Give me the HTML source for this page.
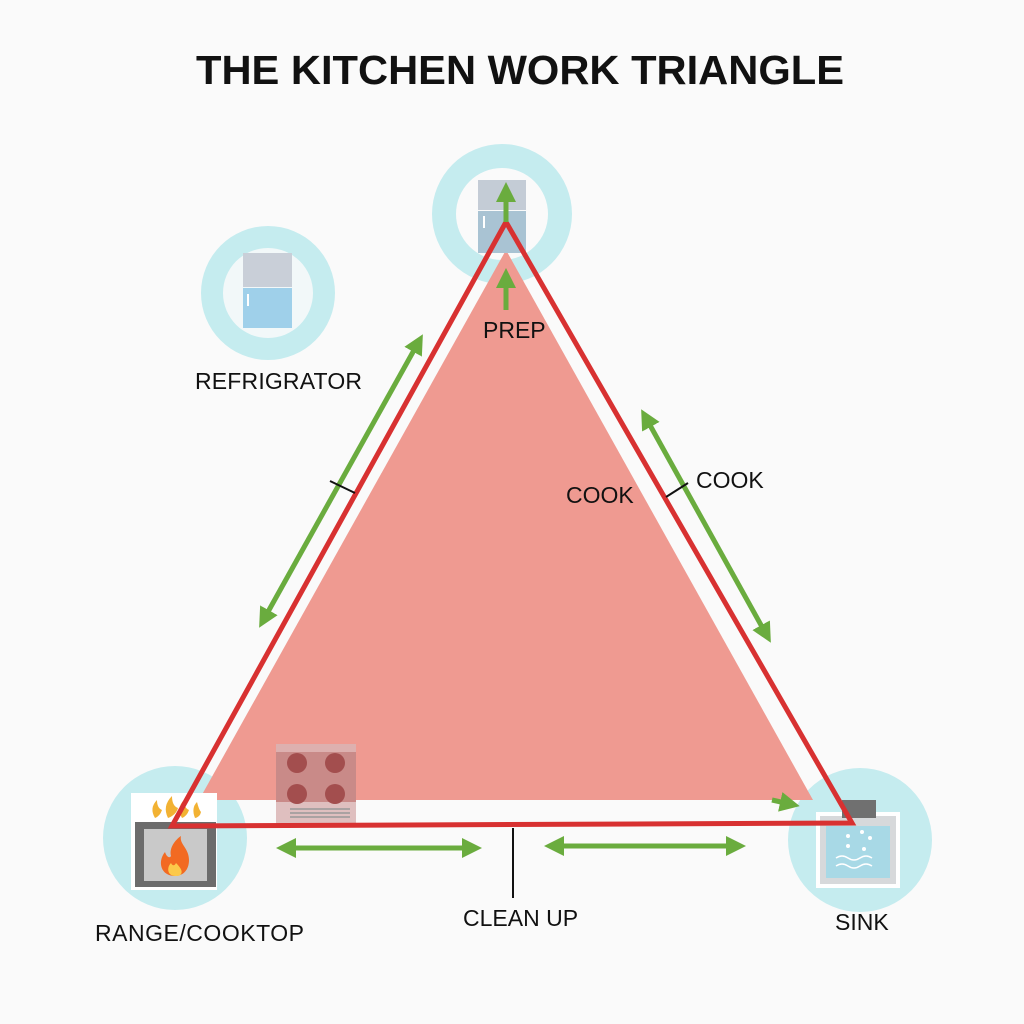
<!DOCTYPE html>
<html><head><meta charset="utf-8"><style>
html,body{margin:0;padding:0;background:#fafafa;}
svg{display:block;}
text{font-family:"Liberation Sans",sans-serif;fill:#111;}
</style></head><body>
<svg width="1024" height="1024" viewBox="0 0 1024 1024" xmlns="http://www.w3.org/2000/svg">
<defs>
<marker id="ah" viewBox="0 0 10 10" refX="5" refY="5" markerWidth="4" markerHeight="4" orient="auto-start-reverse">
<path d="M0,0 L10,5 L0,10 z" fill="#6aac3e"/></marker>
</defs>
<rect width="1024" height="1024" fill="#fafafa"/>
<text x="196" y="84" font-size="41" font-weight="bold" textLength="648" lengthAdjust="spacingAndGlyphs">THE KITCHEN WORK TRIANGLE</text>

<circle cx="502" cy="214" r="70" fill="#c5ecef"/>
<circle cx="502" cy="214" r="46" fill="#fafafa"/>
<circle cx="268" cy="293" r="67" fill="#c5ecef"/>
<circle cx="268" cy="293" r="45" fill="#f2f8f9"/>
<circle cx="175" cy="838" r="72" fill="#c5ecef"/>
<circle cx="860" cy="840" r="72" fill="#c5ecef"/>

<polygon points="506,250 199,800 813,800" fill="#ef9a91"/>

<rect x="478" y="180" width="48" height="30" fill="#c4ccd6"/>
<rect x="478" y="211" width="48" height="42" fill="#a9c3d3"/>
<rect x="483" y="216" width="2" height="12" fill="#fff"/>
<rect x="243" y="253" width="49" height="34" fill="#c9cfd8"/>
<rect x="243" y="288" width="49" height="40" fill="#9fd0ea"/>
<rect x="247" y="294" width="2" height="12" fill="#fff"/>

<rect x="276" y="744" width="80" height="80" fill="#d9b4b4" opacity="0.85"/>
<rect x="276" y="752" width="80" height="50" fill="#c98a88"/>
<circle cx="297" cy="763" r="10" fill="#a34e4e"/><circle cx="335" cy="763" r="10" fill="#a34e4e"/>
<circle cx="297" cy="794" r="10" fill="#a34e4e"/><circle cx="335" cy="794" r="10" fill="#a34e4e"/>
<g stroke="#999" stroke-width="1.5"><line x1="290" y1="809" x2="350" y2="809"/><line x1="290" y1="813" x2="350" y2="813"/><line x1="290" y1="817" x2="350" y2="817"/></g>

<rect x="131" y="793" width="86" height="97" fill="#fff"/>
<path d="M155,818 q-6,-10 2,-18 q0,8 5,10 q-2,6 -7,8z M168,818 q-6,-12 4,-22 q0,10 6,12 q-2,7 -10,10z M182,818 q-6,-10 2,-18 q0,8 5,10 q-2,6 -7,8z M195,818 q-4,-10 2,-16 q2,8 4,10 q-1,5 -6,6z" fill="#f2b233"/>
<rect x="135" y="822" width="81" height="65" fill="#6c6c6c"/>
<rect x="144" y="829" width="63" height="52" fill="#c9c9c9"/>
<path d="M175,876 c-14,0 -18,-14 -10,-24 c2,6 5,6 6,4 c-2,-8 4,-16 10,-20 c-2,8 8,12 8,24 c0,10 -6,16 -14,16z" fill="#f26a22"/>
<path d="M175,876 c-7,0 -9,-8 -4,-13 c2,4 4,2 5,0 c4,4 7,8 5,11 c-1,2 -3,2 -6,2z" fill="#fcc94a"/>

<rect x="816" y="812" width="84" height="76" fill="#fff"/>
<rect x="820" y="816" width="76" height="68" fill="#d7d9db"/>
<rect x="842" y="800" width="34" height="18" fill="#707070"/>
<rect x="826" y="826" width="64" height="52" fill="#a8d9e6"/>
<g fill="#fff"><circle cx="848" cy="836" r="2"/><circle cx="862" cy="832" r="2"/><circle cx="870" cy="838" r="2"/><circle cx="848" cy="846" r="2"/><circle cx="864" cy="849" r="2"/></g>
<path d="M836,858 q6,-4 12,0 t12,0 t12,0 M836,866 q6,-4 12,0 t12,0 t12,0" stroke="#fff" stroke-width="1.5" fill="none"/>

<polygon points="506,222 172,826 852,823" fill="none" stroke="#d83131" stroke-width="5" stroke-linejoin="miter"/>

<g stroke="#6aac3e" stroke-width="5" fill="none">
<line x1="264" y1="619" x2="418" y2="343" marker-start="url(#ah)" marker-end="url(#ah)"/>
<line x1="646" y1="418" x2="766" y2="634" marker-start="url(#ah)" marker-end="url(#ah)"/>
<line x1="286" y1="848" x2="472" y2="848" marker-start="url(#ah)" marker-end="url(#ah)"/>
<line x1="554" y1="846" x2="736" y2="846" marker-start="url(#ah)" marker-end="url(#ah)"/>
<line x1="506" y1="222" x2="506" y2="192" marker-end="url(#ah)"/>
<line x1="506" y1="310" x2="506" y2="278" marker-end="url(#ah)"/>
<line x1="772" y1="800" x2="790" y2="804" marker-end="url(#ah)"/>
</g>

<g stroke="#111" stroke-width="2">
<line x1="330" y1="481" x2="355" y2="493"/>
<line x1="666" y1="497" x2="688" y2="483"/>
<line x1="513" y1="828" x2="513" y2="898"/>
</g>

<g font-size="23">
<text x="195" y="389" textLength="167">REFRIGRATOR</text>
<text x="483" y="338">PREP</text>
<text x="566" y="503">COOK</text>
<text x="696" y="488">COOK</text>
<text x="463" y="926">CLEAN UP</text>
<text x="95" y="941" textLength="209">RANGE/COOKTOP</text>
<text x="835" y="930">SINK</text>
</g>
</svg>
</body></html>
